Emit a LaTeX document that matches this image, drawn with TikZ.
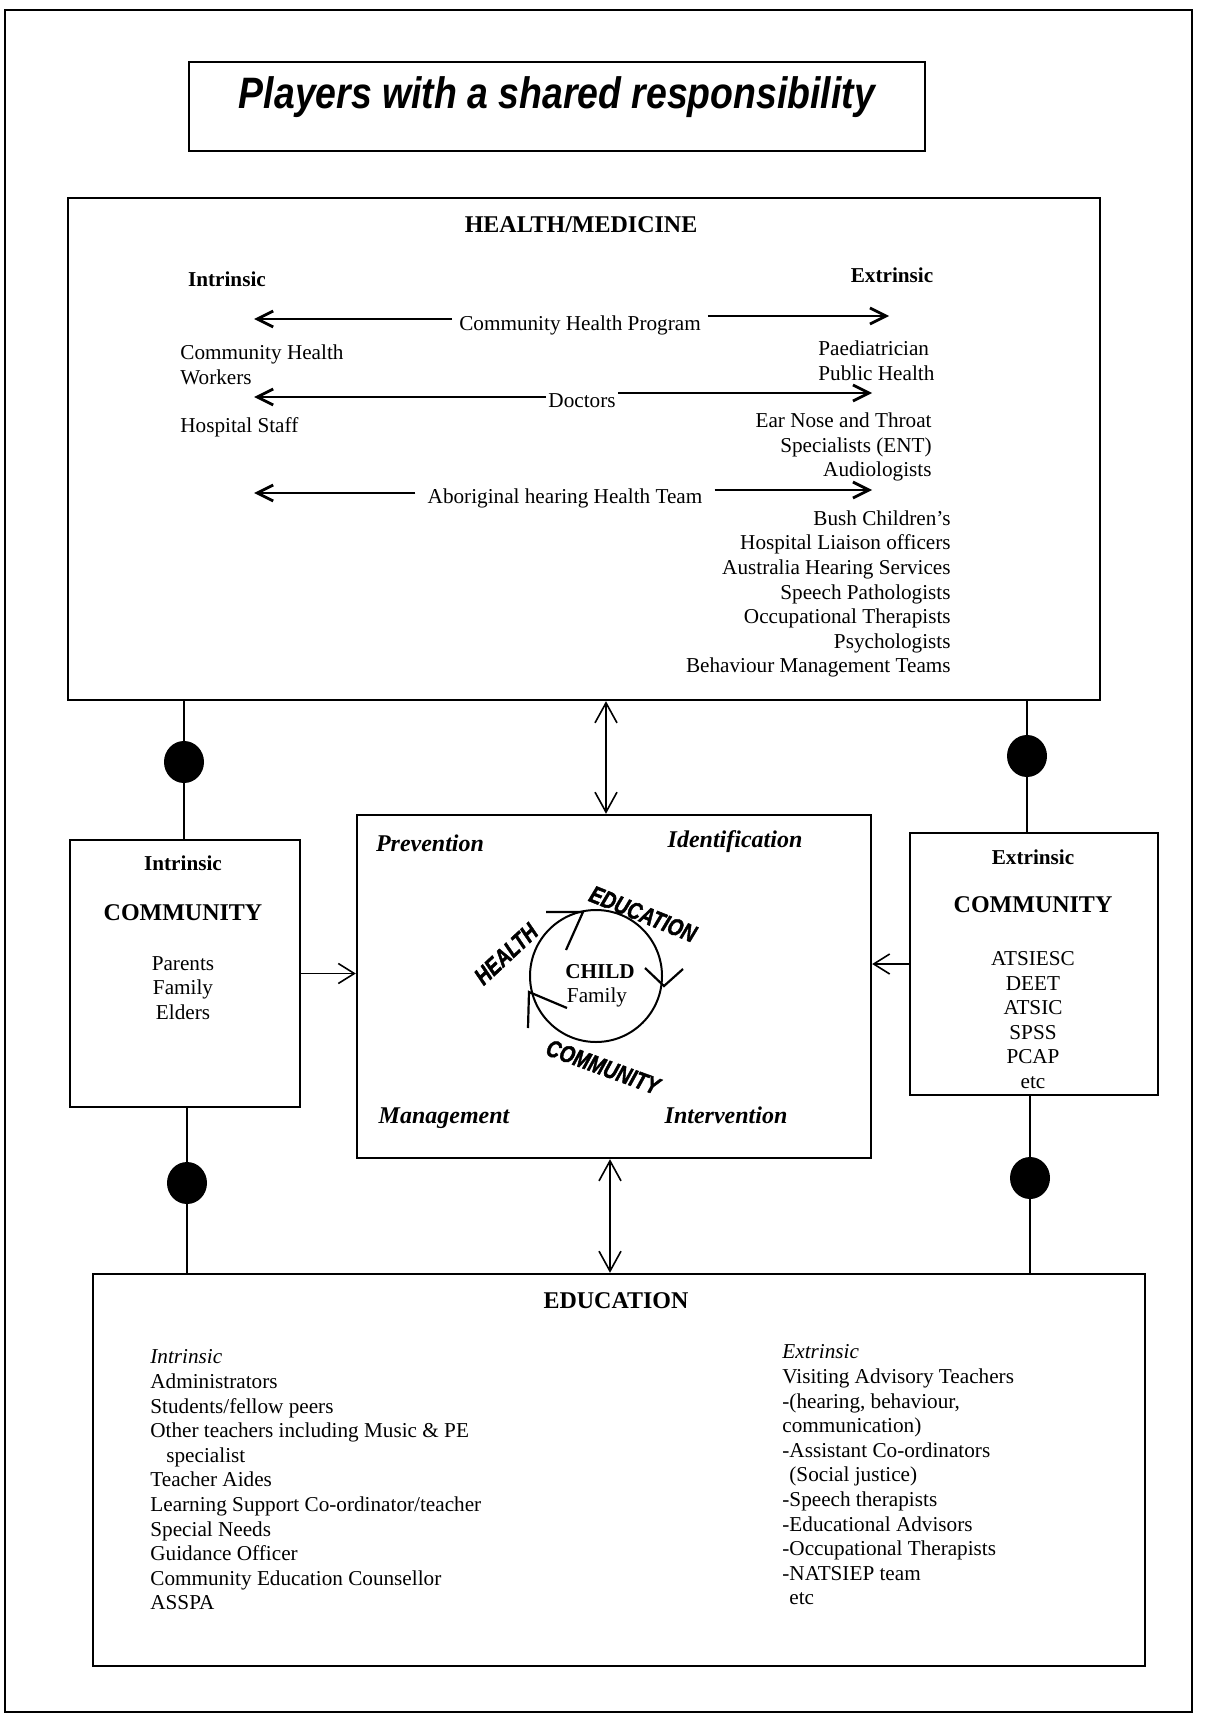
\documentclass[tikz,border=0pt]{standalone}
\usepackage{fontspec}
\setmainfont{Liberation Serif}
\newfontfamily\titlefont{Liberation Sans}
\newfontfamily\wordfont[FakeBold=2]{Liberation Sans}
\usepackage{tikz}
\usetikzlibrary{arrows.meta,fit,shapes.geometric}

\begin{document}
\begin{tikzpicture}[
  x=0.5pt, y=-0.5pt,
  font=\fontsize{10.6}{12.3}\selectfont,
  box/.style={
    draw,
    line width=1.2pt,
    inner sep=0pt
  },
  head/.style={font=\bfseries\fontsize{12}{14}\selectfont},
  sub/.style={font=\bfseries\fontsize{10.6}{12.3}\selectfont},
  phase/.style={font=\bfseries\itshape\fontsize{12}{14}\selectfont},
  word/.style={font=\wordfont\bfseries\itshape\fontsize{12}{12}\selectfont, xscale=0.8, inner sep=0pt},
  list/.style={inner sep=0pt, align=left},
  rlist/.style={inner sep=0pt, align=right},
  clist/.style={inner sep=0pt, align=center},
  dot/.style={ellipse, fill=black, minimum width=20pt, minimum height=21pt, inner sep=0pt},
  link/.style={line width=0.8pt},
  hflow/.style={-{Straight Barb[length=8pt,width=8pt]}, line width=1.4pt},
  flow/.style={-{Straight Barb[length=8pt,width=10pt]}, line width=0.8pt},
  dflow/.style={{Straight Barb[length=10pt,width=11pt]}-{Straight Barb[length=10pt,width=11pt]}, line width=0.8pt},
  cyc/.style={line width=1.1pt}
]
  \path[fill=white, use as bounding box] (0,0) rectangle (1204,1717);
  \draw[line width=0.7pt] (5,10) rectangle (1192,1712);

  % title
  \node[box, fit={(189,62) (925,151)}] (titlebox) {};
  \node[font=\titlefont\bfseries\itshape\fontsize{22}{26}\selectfont, xscale=0.85] (title) at (557,97) {Players with a shared responsibility};

  % health / medicine
  \node[box, fit={(68,198) (1100,700)}] (health) {};
  \node[head] (healthhd) at (581,225) {HEALTH/MEDICINE};
  \node[sub, anchor=west] (hint) at (181,279) {Intrinsic};
  \node[sub] (hext) at (892,275) {Extrinsic};
  \node (chp) at (580,325) {Community Health Program};
  \node[inner sep=1pt] (doc) at (582,401) {Doctors};
  \node[inner sep=6pt] (ahht) at (565,498) {Aboriginal hearing Health Team};
  \coordinate (chpL) at (254,319);
  \coordinate (chpR) at (889,316);
  \coordinate (docL) at (254,397);
  \coordinate (docR) at (872,393);
  \coordinate (ahhtL) at (254,493);
  \coordinate (ahhtR) at (872,490);
  \draw[hflow] (chp.west |- chpL) -- (chpL);
  \draw[hflow] (chp.east |- chpR) -- (chpR);
  \draw[hflow] (doc.west |- docL) -- (docL);
  \draw[hflow] (doc.east |- docR) -- (docR);
  \draw[hflow] (ahht.west |- ahhtL) -- (ahhtL);
  \draw[hflow] (ahht.east |- ahhtR) -- (ahhtR);
  \node[list, anchor=west] (chw) at (180,365) {Community Health\\Workers};
  \node[list, anchor=west] (hstaff) at (180,427) {Hospital Staff};
  \node[list, anchor=west] (paed) at (818,361) {Paediatrician\\Public Health};
  \node[rlist, anchor=east] (ent) at (932,447) {Ear Nose and Throat\\Specialists (ENT)\\Audiologists};
  \node[rlist, anchor=east] (bush) at (951,594) {Bush Children’s\\Hospital Liaison officers\\Australia Hearing Services\\Speech Pathologists\\Occupational Therapists\\Psychologists\\Behaviour Management Teams};

  % child in the middle
  \node[box, fit={(357,815) (871,1158)}] (hub) {};
  \node[phase] (prev) at (430,843) {Prevention};
  \node[phase] (ident) at (735,842) {Identification};
  \node[phase] (mgmt) at (444,1118) {Management};
  \node[phase] (interv) at (726,1115) {Intervention};
  \node[circle, draw, line width=1pt, minimum size=66pt, inner sep=0pt] (child) at (596,976) {};
  \node[font=\bfseries\fontsize{10.6}{12}\selectfont, inner sep=0pt] (childtxt) at (600,972) {CHILD};
  \node[inner sep=0pt] (famtxt) at (597,997) {Family};
  \draw[cyc] ([shift={(-50,-64)}]child.center) -- ++(37,0) -- ++(-17,38);
  \draw[cyc] ([shift={(49,-8)}]child.center) -- ++(19,18) -- ++(19,-17);
  \draw[cyc] ([shift={(-29,32)}]child.center) -- ++(-38,-16) -- ++(-1,36);
  \node[rotate=43, word] (wh) at (506,954) {HEALTH};
  \node[rotate=-22, word] (we) at (643,914) {EDUCATION};
  \node[rotate=-20, word] (wc) at (603,1067) {COMMUNITY};

  % community boxes
  \node[box, fit={(70,840) (300,1107)}] (lcomm) {};
  \node[sub] (lint) at (183,863) {Intrinsic};
  \node[head] (lcommhd) at (183,913) {COMMUNITY};
  \node[clist] (lmem) at (183,988) {Parents\\Family\\Elders};
  \node[box, fit={(910,833) (1158,1095)}] (rcomm) {};
  \node[sub] (rext) at (1033,857) {Extrinsic};
  \node[head] (rcommhd) at (1033,905) {COMMUNITY};
  \node[clist] (rmem) at (1033,1020) {ATSIESC\\DEET\\ATSIC\\SPSS\\PCAP\\etc};

  % education
  \node[box, fit={(93,1274) (1145,1666)}] (edu) {};
  \node[head] (eduhd) at (616,1301) {EDUCATION};
  \node[list, anchor=west] (eduint) at (150,1480) {\textit{Intrinsic}\\Administrators\\Students/fellow peers\\Other teachers including Music \& PE\\\hspace*{8pt}specialist\\Teacher Aides\\Learning Support Co-ordinator/teacher\\Special Needs\\Guidance Officer\\Community Education Counsellor\\ASSPA};
  \node[list, anchor=west] (eduext) at (782,1475) {\textit{Extrinsic}\\Visiting Advisory Teachers\\-(hearing, behaviour,\\communication)\\-Assistant Co-ordinators\\\hspace*{3.5pt}(Social justice)\\-Speech therapists\\-Educational Advisors\\-Occupational Therapists\\-NATSIEP team\\\hspace*{3.5pt}etc};

  % connectors
  \coordinate (hubtop) at ([xshift=-4pt]hub.north);
  \coordinate (hubbot) at ([xshift=-2pt]hub.south);
  \draw[dflow] (hubtop) -- (hubtop |- health.south);
  \draw[dflow] (hubbot) -- (hubbot |- edu.north);
  \draw[flow] (lcomm.east) -- (lcomm.east -| hub.west);
  \draw[flow] (rcomm.west) -- (rcomm.west -| hub.east);

  \node[dot] (dotHL) at (184,762) {};
  \node[dot] (dotHR) at (1027,756) {};
  \node[dot] (dotEL) at (187,1183) {};
  \node[dot] (dotER) at (1030,1178) {};
  \draw[link] (dotHL |- health.south) -- (dotHL |- lcomm.north);
  \draw[link] (dotHR |- health.south) -- (dotHR |- rcomm.north);
  \draw[link] (dotEL |- lcomm.south) -- (dotEL |- edu.north);
  \draw[link] (dotER |- rcomm.south) -- (dotER |- edu.north);
\end{tikzpicture}
\end{document}
